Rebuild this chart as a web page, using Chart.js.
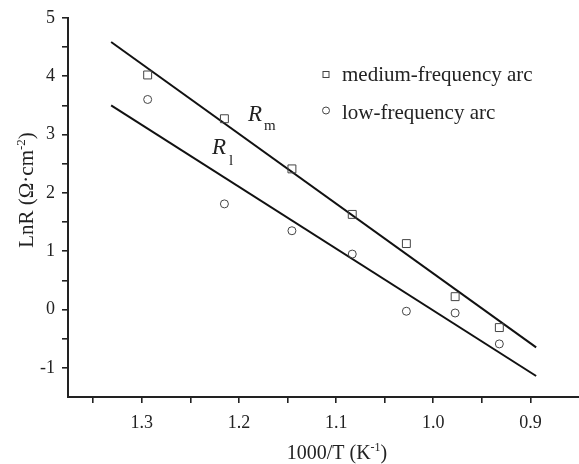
<!DOCTYPE html>
<html>
<head>
<meta charset="utf-8">
<script src="https://cdn.jsdelivr.net/npm/chart.js@4.4.0/dist/chart.umd.min.js"></script>
<style>
html, body { margin: 0; padding: 0; background: #fff; }
</style>
</head>
<body>
<canvas id="myChart" width="579" height="464"></canvas>
<script>
// 1000/T (K^-1) of the measured points
var invT = [1.294, 1.215, 1.1455, 1.0834, 1.0277, 0.9775, 0.932];
// LnR of the medium-frequency arc (squares)
var lnRmedium = [4.02, 3.27, 2.41, 1.63, 1.13, 0.22, -0.31];
// LnR of the low-frequency arc (circles)
var lnRlow = [3.60, 1.81, 1.35, 0.95, -0.03, -0.06, -0.59];
// fitted straight lines, read at their two ends
var fitX = [1.3316, 0.8941];
var fitMedium = [4.585, -0.65];
var fitLow = [3.50, -1.14];
// ticks
var xMajor = [1.3, 1.2, 1.1, 1.0, 0.9];
var xMinor = [1.35, 1.25, 1.15, 1.05, 0.95];
var yMajor = [-1, 0, 1, 2, 3, 4, 5];
var yMinor = [-0.5, 0.5, 1.5, 2.5, 3.5, 4.5];

var serif = '"Liberation Serif", "Times New Roman", serif';
var ink = '#222';

function toPoints(xs, ys) {
    var pts = [];
    for (var i = 0; i < xs.length; i++) {
        pts.push({ x: xs[i], y: ys[i] });
    }
    return pts;
}

function isIn(list, v) {
    return list.some(function (m) { return Math.abs(m - v) < 1e-6; });
}

// text with superscript / subscript parts, parts = [[text, mode]], mode 0 normal, 1 sup, 2 sub
function drawRich(ctx, parts, x, y, size, center) {
    var small = Math.round(size * 0.62);
    var total = 0;
    parts.forEach(function (p) {
        ctx.font = (p[1] ? small : size) + 'px ' + serif;
        total += ctx.measureText(p[0]).width;
    });
    var cx = center ? x - total / 2 : x;
    parts.forEach(function (p) {
        ctx.font = (p[1] ? small : size) + 'px ' + serif;
        var dy = p[1] === 1 ? -size * 0.38 : (p[1] === 2 ? size * 0.2 : 0);
        ctx.fillText(p[0], cx, y + dy);
        cx += ctx.measureText(p[0]).width;
    });
}

// the x axis runs to the right edge of the canvas
var stretchPlugin = {
    id: 'stretch',
    afterLayout: function (chart) {
        var x = chart.scales.x;
        chart.chartArea.right = chart.width;
        chart.chartArea.width = chart.width - chart.chartArea.left;
        x.right = chart.width;
        x.width = chart.width - x.left;
        x.configure();
    }
};

var decorPlugin = {
    id: 'decor',
    afterDraw: function (chart) {
        var ctx = chart.ctx;
        ctx.save();
        ctx.fillStyle = ink;
        ctx.textAlign = 'left';
        ctx.textBaseline = 'alphabetic';

        // x axis title
        drawRich(ctx, [['1000/T (K', 0], ['-1', 1], [')', 0]], 337, 459, 20, true);

        // y axis title
        ctx.save();
        ctx.translate(33, 190);
        ctx.rotate(-Math.PI / 2);
        drawRich(ctx, [['LnR (\u03A9\u00B7cm', 0], ['-2', 1], [')', 0]], 0, 0, 21, true);
        ctx.restore();

        // line labels
        ctx.font = 'italic 23px ' + serif;
        ctx.fillText('R', 248, 121);
        ctx.fillText('R', 212, 154);
        ctx.font = '15px ' + serif;
        ctx.fillText('m', 264, 130);
        ctx.fillText('l', 229, 165);

        // legend
        ctx.strokeStyle = '#444';
        ctx.lineWidth = 1;
        ctx.strokeRect(323, 71.5, 6, 6);
        ctx.beginPath();
        ctx.arc(326, 110.5, 3.5, 0, Math.PI * 2);
        ctx.stroke();
        ctx.font = '21px ' + serif;
        ctx.fillText('medium-frequency arc', 342, 81);
        ctx.fillText('low-frequency arc', 342, 119);
        ctx.restore();
    }
};

var axisLine = { display: true, color: ink, width: 2 };
var tickMarks = {
    display: true,
    drawOnChartArea: false,
    drawTicks: true,
    tickLength: 6,
    color: ink,
    lineWidth: 1.6
};

new Chart(document.getElementById('myChart').getContext('2d'), {
    type: 'scatter',
    data: {
        datasets: [
            {
                label: 'medium-frequency arc',
                data: toPoints(invT, lnRmedium),
                pointStyle: 'rect',
                pointRadius: 5.6,
                borderColor: '#444',
                backgroundColor: 'rgba(0,0,0,0)',
                borderWidth: 1
            },
            {
                label: 'low-frequency arc',
                data: toPoints(invT, lnRlow),
                pointStyle: 'circle',
                pointRadius: 4,
                borderColor: '#444',
                backgroundColor: 'rgba(0,0,0,0)',
                borderWidth: 1
            },
            {
                label: 'Rm fit',
                data: toPoints(fitX, fitMedium),
                showLine: true,
                pointRadius: 0,
                borderColor: '#111',
                borderWidth: 2
            },
            {
                label: 'Rl fit',
                data: toPoints(fitX, fitLow),
                showLine: true,
                pointRadius: 0,
                borderColor: '#111',
                borderWidth: 2
            }
        ]
    },
    options: {
        responsive: false,
        animation: false,
        layout: { padding: { top: 15, right: 0, left: 0, bottom: 0 } },
        plugins: {
            legend: { display: false },
            tooltip: { enabled: false }
        },
        scales: {
            x: {
                type: 'linear',
                reverse: true,
                min: 0.85,
                max: 1.376,
                border: axisLine,
                grid: tickMarks,
                afterBuildTicks: function (axis) {
                    axis.ticks = xMajor.concat(xMinor).sort().map(function (v) { return { value: v }; });
                },
                afterFit: function (scale) { scale.height = 67; },
                ticks: {
                    autoSkip: false,
                    maxRotation: 0,
                    padding: 9,
                    color: ink,
                    font: { family: serif, size: 18 },
                    callback: function (v) { return isIn(xMajor, v) ? v.toFixed(1) : ''; }
                }
            },
            y: {
                type: 'linear',
                min: -1.5,
                max: 5,
                border: axisLine,
                grid: tickMarks,
                afterBuildTicks: function (axis) {
                    axis.ticks = yMajor.concat(yMinor).sort(function (a, b) { return a - b; }).map(function (v) { return { value: v }; });
                },
                afterFit: function (scale) { scale.width = 68; },
                ticks: {
                    autoSkip: false,
                    padding: 7,
                    color: ink,
                    font: { family: serif, size: 18 },
                    callback: function (v) { return isIn(yMajor, v) ? String(v) : ''; }
                }
            }
        }
    },
    plugins: [stretchPlugin, decorPlugin]
});
</script>
</body>
</html>
